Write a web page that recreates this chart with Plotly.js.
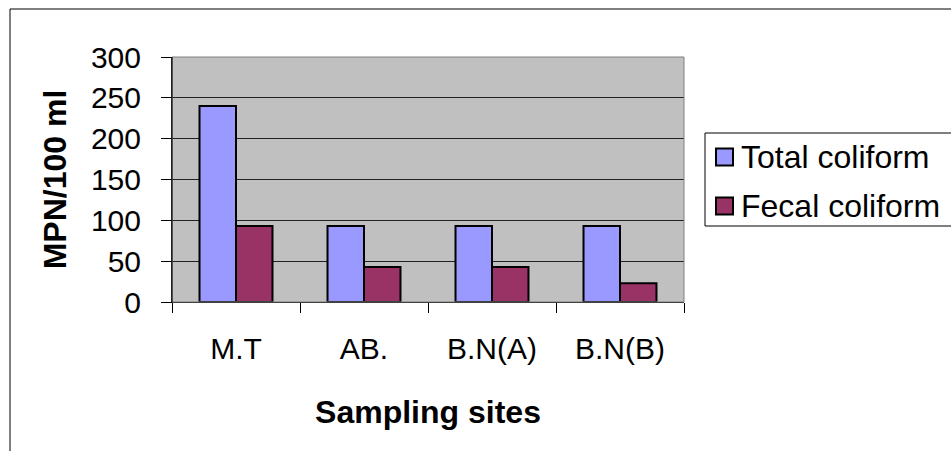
<!DOCTYPE html>
<html>
<head>
<meta charset="utf-8">
<script src="https://cdn.plot.ly/plotly-3.0.1.min.js"></script>
<style>html,body{margin:0;padding:0;background:#fff;}#chart{width:951px;height:451px;}</style>
</head>
<body>
<div id="chart"></div>
<script>
const sites = ["M.T", "AB.", "B.N(A)", "B.N(B)"];
const totalColiform = [240, 93, 93, 93];
const fecalColiform = [93, 43, 43, 23];
const yTicks = [0, 50, 100, 150, 200, 250, 300];
const seriesNames = ["Total coliform", "Fecal coliform"];
const seriesColors = ["#9999FF", "#993366"];

const font = "Liberation Sans, Arial, sans-serif";

const traces = [
  {type: "bar", name: seriesNames[0], x: sites, y: totalColiform,
   marker: {color: seriesColors[0], line: {color: "#000", width: 2}}},
  {type: "bar", name: seriesNames[1], x: sites, y: fecalColiform,
   marker: {color: seriesColors[1], line: {color: "#000", width: 2}}}
];

// manual legend geometry (paper coords from pixel positions)
const L = 172, W = 512, B = 302, H = 245;
const px = v => (v - L) / W;
const py = v => (B - v) / H;
const legendRows = [157, 206];

const shapes = [
  {type: "rect", xref: "paper", yref: "paper", x0: 0, x1: 1, y0: 0, y1: 1,
   line: {color: "#808080", width: 1}, layer: "above"},
  {type: "line", xref: "paper", yref: "paper", x0: 0, x1: 0, y0: 0, y1: 1,
   line: {color: "#000", width: 1}, layer: "above"},
  {type: "rect", xref: "paper", yref: "paper",
   x0: px(10), x1: px(960), y0: py(460), y1: py(9),
   line: {color: "#000", width: 1}, layer: "below"},
  {type: "rect", xref: "paper", yref: "paper",
   x0: px(705), x1: px(960), y0: py(226), y1: py(133),
   line: {color: "#000", width: 1}, fillcolor: "#fff", layer: "above"}
];
const annotations = [];
seriesNames.forEach((n, i) => {
  const yc = legendRows[i];
  shapes.push({type: "rect", xref: "paper", yref: "paper",
    x0: px(716), x1: px(733), y0: py(yc + 8.5), y1: py(yc - 8.5),
    line: {color: "#000", width: 2}, fillcolor: seriesColors[i], layer: "above"});
  annotations.push({xref: "paper", yref: "paper", x: px(739), y: py(yc),
    xanchor: "left", yanchor: "middle", showarrow: false, text: n,
    font: {family: font, size: 32, color: "#000"}});
});

const layout = {
  width: 951, height: 451,
  margin: {l: 172, r: 267, t: 57, b: 149},
  paper_bgcolor: "#fff",
  plot_bgcolor: "#C0C0C0",
  barmode: "group",
  bargap: 0.43,
  bargroupgap: 0,
  font: {family: font, size: 30, color: "#000"},
  showlegend: false,
  xaxis: {
    type: "category", tickson: "boundaries", ticks: "outside", ticklen: 10, tickcolor: "#000",
    showline: true, linecolor: "#000", linewidth: 1, showgrid: false,
    ticklabelstandoff: 20,
    tickfont: {family: font, size: 30},
    title: {text: "<b>Sampling sites</b>", font: {family: font, size: 32}, standoff: 36}
  },
  yaxis: {
    range: [0, 300], tickvals: yTicks, ticks: "outside", ticklen: 10, tickcolor: "#000",
    showline: true, linecolor: "#000", linewidth: 1,
    showgrid: true, gridcolor: "#222", gridwidth: 1, zeroline: false,
    ticklabelstandoff: 14,
    tickfont: {family: font, size: 30},
    title: {text: "<b>MPN/100 ml</b>", font: {family: font, size: 32}, standoff: 14}
  },
  shapes: shapes,
  annotations: annotations
};

Plotly.newPlot("chart", traces, layout, {displayModeBar: false, staticPlot: true});
</script>
</body>
</html>
